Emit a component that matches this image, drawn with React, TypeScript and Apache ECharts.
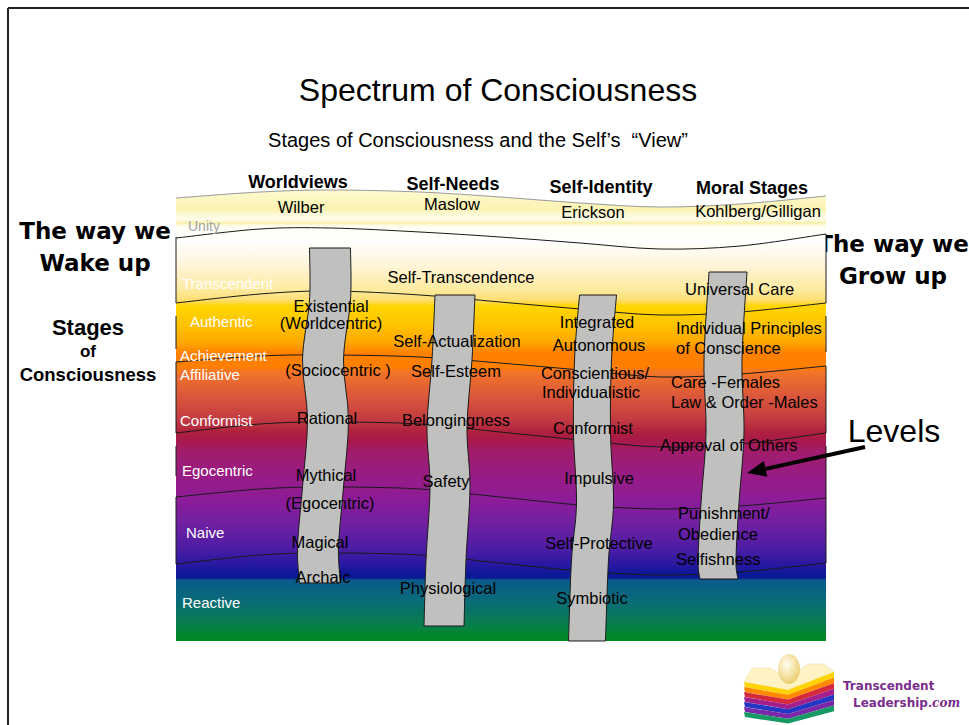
import { useEffect, useRef } from 'react';
import * as echarts from 'echarts';

const SANS = '"Liberation Sans", Arial, Helvetica, sans-serif';
const COMIC = '"Comic Sans MS", "DejaVu Sans", sans-serif';

// ---------------- data ----------------
const levelNames = ['Unity', 'Transcendent', 'Authentic', 'Achievement', 'Affiliative', 'Conformist', 'Egocentric', 'Naive', 'Reactive'];
const levelLabelX = [188, 182, 190, 180, 180, 180, 182, 186, 182];
const levelLabelY = [226, 283, 321, 355, 374, 420, 470, 532, 602];

const columnTitles = ['Worldviews', 'Self-Needs', 'Self-Identity', 'Moral Stages'];
const columnTitleX = [298, 453, 601, 752];
const columnTitleY = [182, 184, 187, 188];
const columnSources = ['Wilber', 'Maslow', 'Erickson', 'Kohlberg/Gilligan'];
const columnSourceX = [301, 452, 593, 758];
const columnSourceY = [207, 204, 212, 211];

// wavy level boundaries (sampled along the band)
const boundaryX = [176, 260, 330, 420, 500, 580, 660, 740, 826];
const paperEdgeY = [198, 192, 190, 192, 197, 203, 207, 204, 196];
const levelBoundaryY = [
  [238, 229, 228, 232, 237, 243, 249, 246, 234],
  [303, 294, 291, 295, 302, 309, 315, 312, 303],
  [362, 356, 355, 357, 363, 370, 377, 374, 366],
  [433, 424, 422, 424, 432, 440, 447, 444, 433],
  [497, 489, 487, 489, 497, 505, 509, 506, 498],
  [564, 555, 553, 555, 563, 571, 575, 572, 563],
];
const leftEdgeSegments = [[237, 303], [316, 349], [362, 433], [446, 476], [497, 564]];
const rightEdgeSegments = [[234, 303], [316, 352], [366, 433], [446, 498], [498, 563]];

// grey "ladders" for each column
const ladderY = [
  [248, 300, 360, 420, 487, 547, 583],
  [295, 360, 427, 487, 560, 626],
  [295, 360, 433, 503, 560, 641],
  [272, 360, 433, 503, 560, 579],
];
const ladderCenterX = [
  [330, 330, 323, 328, 323, 318, 320],
  [455, 452, 447, 450, 446, 444],
  [598, 593, 592, 595, 590, 587],
  [728, 723, 725, 720, 717, 719],
];
const ladderWidth = [41, 40, 37, 38];

// stage labels per column
const worldviewStages = ['Existential', '(Worldcentric)', '(Sociocentric )', 'Rational', 'Mythical', '(Egocentric)', 'Magical', 'Archaic'];
const worldviewX = [331, 331, 338, 327, 326, 330, 320, 323];
const worldviewY = [306, 323, 370, 418, 475, 503, 542, 577];

const needsStages = ['Self-Transcendence', 'Self-Actualization', 'Self-Esteem', 'Belongingness', 'Safety', 'Physiological'];
const needsX = [461, 457, 456, 456, 446, 448];
const needsY = [277, 341, 371, 420, 481, 588];

const identityStages = ['Integrated', 'Autonomous', 'Conscientious/', 'Individualistic', 'Conformist', 'Impulsive', 'Self-Protective', 'Symbiotic'];
const identityX = [597, 599, 595, 591, 593, 599, 599, 592];
const identityY = [322, 345, 373, 392, 428, 478, 543, 598];

const moralStages = ['Universal Care', 'Individual Principles', 'of Conscience', 'Care -Females', 'Law & Order -Males', 'Approval of Others', 'Punishment/', 'Obedience', 'Selfishness'];
const moralLeftX = [685, 676, 676, 671, 671, 660, 678, 678, 676];
const moralY = [289, 328, 348, 382, 402, 445, 513, 534, 559];

// background colour stops (y position, colour)
const gradStopY = [189, 200, 210, 214, 220, 223, 226, 240, 265, 290, 300, 306, 325, 343, 350, 353, 367, 372, 395, 420, 432, 440, 452, 480, 500, 525, 550, 566, 574, 578, 580, 600, 620, 641];
const gradStopColor = ['#fdfad4', '#fcf6c0', '#fbf3b2', '#fdf9d8', '#fefce8', '#f9efa8', '#fffef2', '#ffffff', '#fff5da', '#feea9e', '#fede72', '#ffd600', '#ffc300', '#ffa600', '#ff8c00', '#ff7f00', '#ff7f00', '#f27528', '#dc583a', '#c23a42', '#b0203e', '#a81a4a', '#a11c6c', '#961c88', '#8c1c98', '#6e20a2', '#4a1ca4', '#2418a0', '#0c1896', '#0a1a94', '#0b5a8c', '#0a6a78', '#087a55', '#008a20'];

const logoStripeColors = ['#ffd400', '#ff8a00', '#d42a3a', '#a21f8c', '#2436c4', '#7a28a8', '#179a66'];

// ---------------- helpers ----------------
const BAND_L = 176, BAND_R = 826, BAND_T = 189, BAND_B = 641;

function splineSegs(pts: number[][]): string {
  let d = '';
  for (let i = 0; i < pts.length - 1; i++) {
    const p0 = pts[i - 1] || pts[i];
    const p1 = pts[i];
    const p2 = pts[i + 1];
    const p3 = pts[i + 2] || pts[i + 1];
    const c1x = p1[0] + (p2[0] - p0[0]) / 6, c1y = p1[1] + (p2[1] - p0[1]) / 6;
    const c2x = p2[0] - (p3[0] - p1[0]) / 6, c2y = p2[1] - (p3[1] - p1[1]) / 6;
    d += ` C${c1x},${c1y} ${c2x},${c2y} ${p2[0]},${p2[1]}`;
  }
  return d;
}

function textSeries(texts: string[], xs: number[], ys: number[], font: string, color: string, align: string) {
  return {
    type: 'custom',
    coordinateSystem: 'cartesian2d',
    silent: true,
    z: 6,
    data: texts.map((_, i) => [xs[i], ys[i]]),
    renderItem: (params: any, api: any) => {
      const p = api.coord([api.value(0), api.value(1)]);
      return {
        type: 'text',
        x: p[0],
        y: p[1],
        style: {
          text: texts[params.dataIndex],
          fill: color,
          font,
          align,
          verticalAlign: 'middle',
        },
      };
    },
  };
}

function gText(text: string, x: number, y: number, font: string, fill: string, align = 'center') {
  return {
    type: 'text',
    x,
    y,
    style: { text, font, fill, align, textAlign: align, verticalAlign: 'middle', textVerticalAlign: 'middle' },
  };
}

export default function App() {
  const ref = useRef<HTMLDivElement>(null);

  useEffect(() => {
    document.body.style.margin = '0';
    document.body.style.overflow = 'hidden';
    if (!ref.current) return;
    const chart = echarts.init(ref.current, null, { renderer: 'svg' });

    const grad = new echarts.graphic.LinearGradient(
      0, 0, 0, 1,
      gradStopY.map((y, i) => ({ offset: (y - BAND_T) / (BAND_B - BAND_T), color: gradStopColor[i] }))
    );

    const series: any[] = [];

    // background colour field
    series.push({
      type: 'custom',
      coordinateSystem: 'cartesian2d',
      silent: true,
      z: 1,
      data: [[BAND_L, BAND_T, BAND_R, BAND_B]],
      renderItem: (_p: any, api: any) => {
        const a = api.coord([api.value(0), api.value(1)]);
        const b = api.coord([api.value(2), api.value(3)]);
        return { type: 'rect', shape: { x: a[0], y: a[1], width: b[0] - a[0], height: b[1] - a[1] }, style: { fill: grad } };
      },
    });

    // white cover above wavy paper edge + grey edge line
    series.push({
      type: 'custom',
      coordinateSystem: 'cartesian2d',
      silent: true,
      z: 2,
      data: [[0]],
      renderItem: (_p: any, api: any) => {
        const pts = boundaryX.map((x, i) => api.coord([x, paperEdgeY[i]]));
        const tl = api.coord([BAND_L - 1, BAND_T - 3]);
        const tr = api.coord([BAND_R + 1, BAND_T - 3]);
        const cover = `M${tl[0]},${tl[1]} L${pts[0][0] - 1},${pts[0][1]} L${pts[0][0]},${pts[0][1]}${splineSegs(pts)} L${pts[pts.length - 1][0] + 1},${pts[pts.length - 1][1]} L${tr[0]},${tr[1]} Z`;
        const edge = `M${pts[0][0]},${pts[0][1]}${splineSegs(pts)}`;
        return {
          type: 'group',
          children: [
            { type: 'path', shape: { pathData: cover }, style: { fill: '#ffffff', stroke: null } },
            { type: 'path', shape: { pathData: edge }, style: { fill: null, stroke: '#9a9a9a', lineWidth: 1 } },
          ],
        };
      },
    });

    // level boundary curves
    series.push({
      type: 'custom',
      coordinateSystem: 'cartesian2d',
      silent: true,
      z: 3,
      data: levelBoundaryY.map((_, i) => [i]),
      renderItem: (params: any, api: any) => {
        const ys = levelBoundaryY[params.dataIndex];
        const pts = boundaryX.map((x, i) => api.coord([x, ys[i]]));
        return {
          type: 'path',
          shape: { pathData: `M${pts[0][0]},${pts[0][1]}${splineSegs(pts)}` },
          style: { fill: null, stroke: '#1a1a1a', lineWidth: 1 },
        };
      },
    });

    // side edges of level boxes
    const edges = [
      ...leftEdgeSegments.map((s) => [BAND_L, s[0], s[1]]),
      ...rightEdgeSegments.map((s) => [BAND_R, s[0], s[1]]),
    ];
    series.push({
      type: 'custom',
      coordinateSystem: 'cartesian2d',
      silent: true,
      z: 3,
      data: edges,
      renderItem: (_p: any, api: any) => {
        const a = api.coord([api.value(0), api.value(1)]);
        const b = api.coord([api.value(0), api.value(2)]);
        return { type: 'line', shape: { x1: a[0], y1: a[1], x2: b[0], y2: b[1] }, style: { stroke: '#1a1a1a', lineWidth: 1 } };
      },
    });

    // grey ladders
    series.push({
      type: 'custom',
      coordinateSystem: 'cartesian2d',
      silent: true,
      z: 4,
      data: ladderY.map((_, i) => [i]),
      renderItem: (params: any, api: any) => {
        const i = params.dataIndex;
        const w = ladderWidth[i] / 2;
        const left = ladderY[i].map((y, k) => api.coord([ladderCenterX[i][k] - w, y]));
        const right = ladderY[i].map((y, k) => api.coord([ladderCenterX[i][k] + w, y])).reverse();
        const d = `M${left[0][0]},${left[0][1]}${splineSegs(left)} L${right[0][0]},${right[0][1]}${splineSegs(right)} Z`;
        return { type: 'path', shape: { pathData: d }, style: { fill: '#c0c1bf', stroke: '#1a1a1a', lineWidth: 1 } };
      },
    });

    // texts inside chart area
    series.push(textSeries(levelNames.slice(0, 1), levelLabelX.slice(0, 1), levelLabelY.slice(0, 1), `14px ${SANS}`, '#a3a3a3', 'left'));
    series.push(textSeries(levelNames.slice(1), levelLabelX.slice(1), levelLabelY.slice(1), `15px ${SANS}`, '#ffffff', 'left'));
    series.push(textSeries(columnTitles, columnTitleX, columnTitleY, `bold 18px ${SANS}`, '#000000', 'center'));
    series.push(textSeries(columnSources, columnSourceX, columnSourceY, `16.5px ${SANS}`, '#000000', 'center'));
    series.push(textSeries(worldviewStages, worldviewX, worldviewY, `16.5px ${SANS}`, '#000000', 'center'));
    series.push(textSeries(needsStages, needsX, needsY, `16.5px ${SANS}`, '#000000', 'center'));
    series.push(textSeries(identityStages, identityX, identityY, `16.5px ${SANS}`, '#000000', 'center'));
    series.push(textSeries(moralStages, moralLeftX, moralY, `16.5px ${SANS}`, '#000000', 'left'));

    // arrow geometry
    const tail = [865, 447], tip = [747, 473];
    const dx = tip[0] - tail[0], dy = tip[1] - tail[1];
    const len = Math.sqrt(dx * dx + dy * dy);
    const ux = dx / len, uy = dy / len;
    const base = [tip[0] - ux * 19, tip[1] - uy * 19];
    const px = -uy * 8, py = ux * 8;

    // logo
    const logoChildren: any[] = [
      { type: 'polygon', shape: { points: [[752, 668], [770, 668], [788, 678], [808, 664], [824, 664], [834, 672], [788, 690], [744, 682]] }, style: { fill: '#fff3c4', stroke: '#e8d9a0', lineWidth: 0.5 } },
      {
        type: 'ellipse',
        shape: { cx: 789, cy: 669, rx: 11, ry: 15 },
        style: {
          fill: new echarts.graphic.RadialGradient(0.4, 0.35, 0.7, [
            { offset: 0, color: '#fffdf0' },
            { offset: 1, color: '#eacb6a' },
          ]),
        },
      },
      ...logoStripeColors.map((c, k) => ({
        type: 'polygon',
        shape: {
          points: [
            [744, 682 + k * 5], [788, 690 + k * 4.8], [834, 672 + k * 5.6],
            [834, 672 + (k + 1) * 5.6], [788, 690 + (k + 1) * 4.8], [745, 682 + (k + 1) * 5],
          ],
        },
        style: { fill: c },
      })),
      {
        type: 'text',
        x: 843,
        y: 686,
        style: { text: 'Transcendent', font: `bold 12px "DejaVu Sans", sans-serif`, fill: '#7a2e8e', align: 'left', verticalAlign: 'middle' },
      },
      {
        type: 'text',
        x: 853,
        y: 703,
        style: {
          text: '{a|Leadership}{b|.com}',
          verticalAlign: 'middle',
          align: 'left',
          rich: {
            a: { font: `bold 12px "DejaVu Sans", sans-serif`, fill: '#7a2e8e', color: '#7a2e8e' },
            b: { font: `italic bold 12px "DejaVu Serif", serif`, fill: '#7a2e8e', color: '#7a2e8e' },
          },
        },
      },
    ];

    const option: any = {
      animation: false,
      backgroundColor: '#ffffff',
      grid: { left: 0, right: 0, top: 0, bottom: 0, containLabel: false },
      xAxis: { type: 'value', min: 0, max: 969, show: false },
      yAxis: { type: 'value', min: 0, max: 725, inverse: true, show: false },
      tooltip: { show: false },
      series,
      graphic: [
        // slide frame
        { type: 'line', shape: { x1: 8, y1: 8, x2: 969, y2: 8 }, style: { stroke: '#222222', lineWidth: 2 }, z: 10 },
        { type: 'line', shape: { x1: 8, y1: 8, x2: 8, y2: 725 }, style: { stroke: '#222222', lineWidth: 2 }, z: 10 },
        gText('Spectrum of Consciousness', 498, 90, `32px ${SANS}`, '#000000'),
        gText('Stages of Consciousness and the Self\u2019s  \u201cView\u201d', 478, 140, `20px ${SANS}`, '#000000'),
        gText('The way we', 95, 231, `bold 23px ${COMIC}`, '#000000'),
        gText('Wake up', 95, 263, `bold 23px ${COMIC}`, '#000000'),
        gText('Stages', 88, 327, `bold 22px ${SANS}`, '#000000'),
        gText('of', 88, 351, `bold 17px ${SANS}`, '#000000'),
        gText('Consciousness', 88, 374, `bold 18.5px ${SANS}`, '#000000'),
        gText('The way we', 893, 244, `bold 23px ${COMIC}`, '#000000'),
        gText('Grow up', 893, 276, `bold 23px ${COMIC}`, '#000000'),
        gText('Levels', 894, 431, `32px ${SANS}`, '#000000'),
        { type: 'line', z: 10, shape: { x1: tail[0], y1: tail[1], x2: base[0], y2: base[1] }, style: { stroke: '#000000', lineWidth: 4 } },
        {
          type: 'polygon',
          z: 10,
          shape: { points: [tip, [base[0] + px, base[1] + py], [base[0] - px, base[1] - py]] },
          style: { fill: '#000000' },
        },
        { type: 'group', children: logoChildren },
      ],
    };

    chart.setOption(option);
    return () => chart.dispose();
  }, []);

  return (
    <div
      ref={ref}
      style={{ position: 'relative', width: 969, height: 725, background: '#ffffff' }}
    />
  );
}
